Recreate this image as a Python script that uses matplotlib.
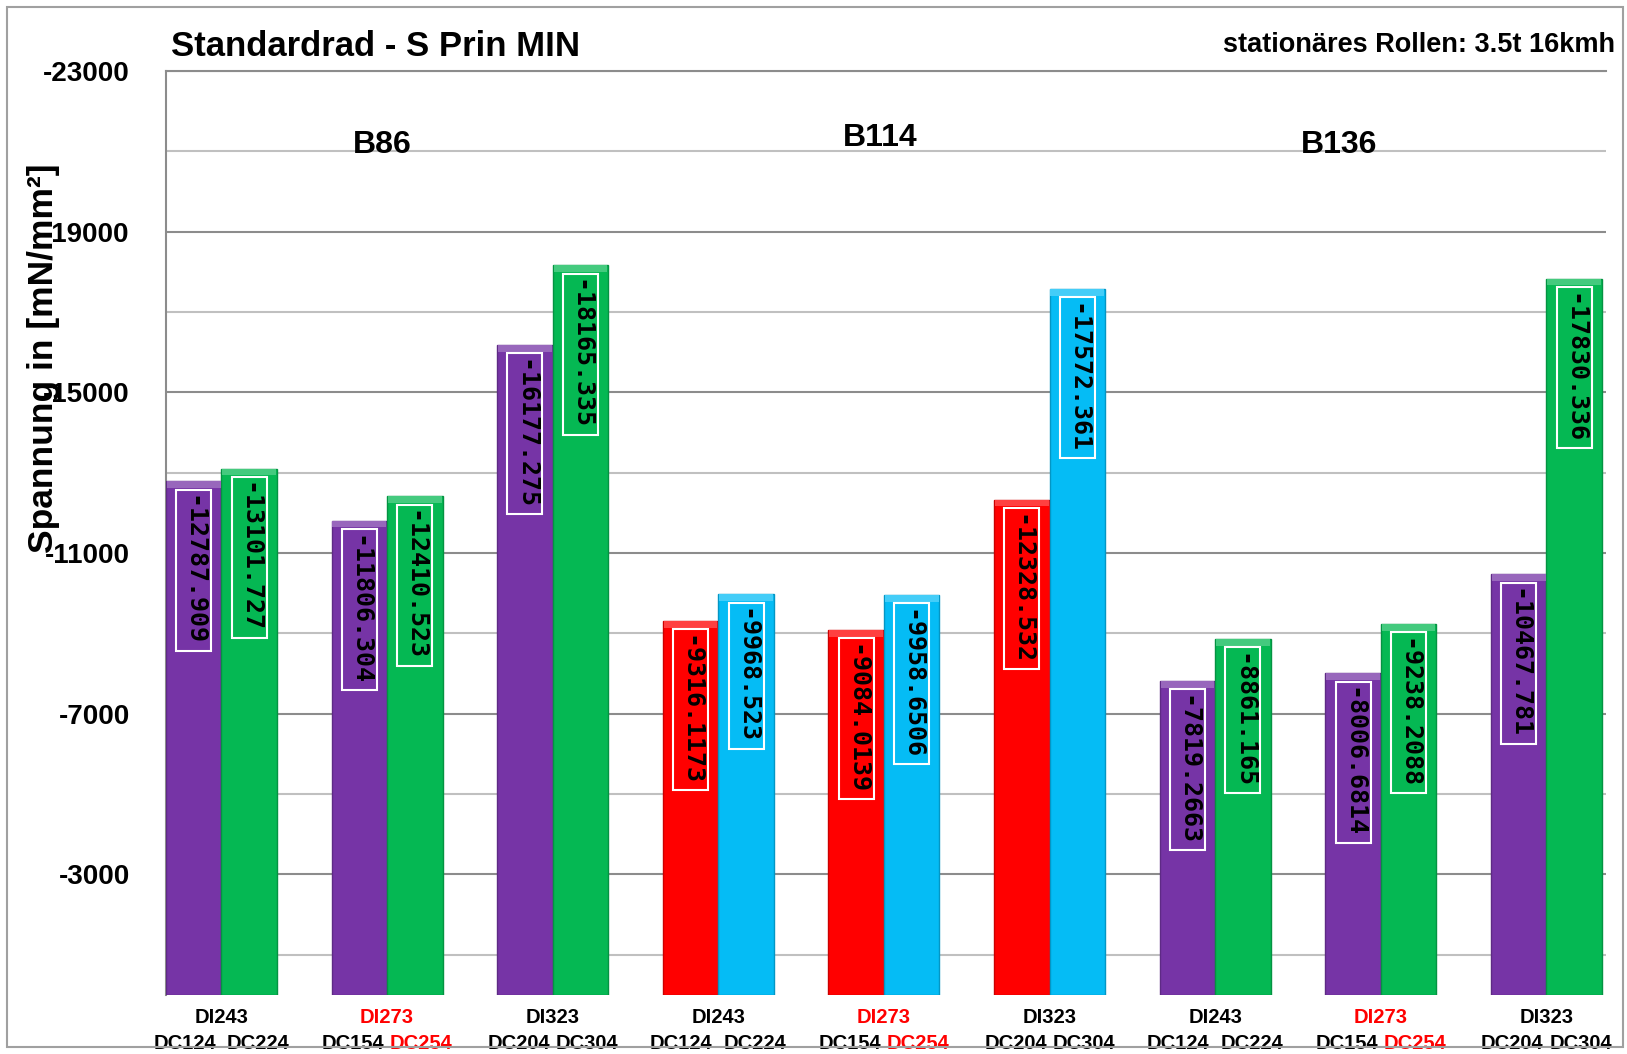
import numpy as np
import matplotlib
matplotlib.use("Agg")
import matplotlib.pyplot as plt
from matplotlib.patches import Rectangle
from matplotlib.colors import to_rgb

plt.rcParams['font.family'] = ['Liberation Sans', 'DejaVu Sans']
plt.rcParams['font.weight'] = 'bold'

### DATA
first_vals = [-12787.909, -11806.304, -16177.275, -9316.1173, -9084.0139,
              -12328.532, -7819.2663, -8006.6814, -10467.781]
second_vals = [-13101.727, -12410.523, -18165.335, -9968.523, -9958.6506,
               -17572.361, -8861.165, -9238.2088, -17830.336]
first_colors = ['#7634A6'] * 3 + ['#FF0000'] * 3 + ['#7634A6'] * 3
second_colors = ['#05B853'] * 3 + ['#05BCF5'] * 3 + ['#05B853'] * 3

top_labels = ["DI243", "DI273", "DI323"] * 3
top_colors = ['black', 'red', 'black'] * 3
sub_left = ["DC124", "DC154", "DC204"] * 3
sub_right = ["DC224", "DC254", "DC304"] * 3
sub_right_colors = ['black', 'red', 'black'] * 3
sub_gap = [4, 2, 2] * 3

group_names = ["B86", "B114", "B136"]
group_x = [0.97, 3.98, 6.75]
group_y = [-21160, -21330, -21160]

title = "Standardrad - S Prin MIN"
subtitle = "stationäres Rollen: 3.5t 16kmh"
ylabel = "Spannung in [mN/mm²]"


def shade(c, f):
    r, g, b = to_rgb(c)
    if f > 1:
        return (r + (1 - r) * (f - 1), g + (1 - g) * (f - 1), b + (1 - b) * (f - 1))
    return (r * f, g * f, b * f)


###PLOT
fig = plt.figure(figsize=(16.27, 10.54), dpi=100)
ax = fig.add_axes([0.1020, 0.0560, 0.8851, 0.8767])

x = np.arange(len(first_vals))
w = 0.335
cap = 170  # height of the light bevel strip, in data units

for xs, vals, cols in [(x - w / 2, first_vals, first_colors), (x + w / 2, second_vals, second_colors)]:
    ax.bar(xs, vals, width=w, color=cols, edgecolor=[shade(c, 0.8) for c in cols], linewidth=1, zorder=3)
    # light bevel at the top of each bar (inside the bar)
    ax.bar(xs, [-cap] * len(vals), bottom=[v + cap for v in vals], width=w * 0.97,
           color=[shade(c, 1.25) for c in cols], linewidth=0, zorder=4)
    for xi, v, c in zip(xs, vals, cols):
        ax.annotate(f"{v}", xy=(xi, v), xytext=(0, -10), textcoords='offset points',
                    rotation=-90, ha='center', va='top', fontsize=18, fontweight='bold',
                    family='DejaVu Sans Mono', color='black', zorder=5,
                    bbox=dict(boxstyle='square,pad=0.22', fc=c, ec='white', lw=1.5))

ax.set_xlim(-0.335, 8.36)
ax.set_ylim(0, -23000)

ax.set_yticks(np.arange(-23000, 0, 4000))
ax.set_yticks(np.arange(-21000, 0, 4000), minor=True)
ax.set_yticklabels([str(t) for t in np.arange(-23000, 0, 4000)], fontsize=20, fontweight='bold')
ax.tick_params(axis='y', which='both', length=0, pad=26)
ax.grid(axis='y', which='major', color='#8c8c8c', lw=1.5, zorder=0)
ax.grid(axis='y', which='minor', color='#c0c0c0', lw=1.5, zorder=0)
ax.set_xticks(x)
ax.set_xticklabels([])
ax.tick_params(axis='x', length=0)

for s in ['right', 'bottom']:
    ax.spines[s].set_visible(False)
ax.spines['left'].set_color('#8c8c8c')
ax.spines['left'].set_linewidth(1.5)
ax.spines['top'].set_color('#8c8c8c')
ax.spines['top'].set_linewidth(1.5)

# category labels under the groups
for i in range(len(x)):
    ax.annotate(top_labels[i], xy=(x[i], 0), xycoords=('data', 'axes fraction'),
                xytext=(0, -16.5), textcoords='offset points', ha='center', va='center',
                fontsize=14.5, fontweight='bold', color=top_colors[i], annotation_clip=False)
    ax.annotate(sub_left[i], xy=(x[i], 0), xycoords=('data', 'axes fraction'),
                xytext=(-sub_gap[i], -35), textcoords='offset points', ha='right', va='center',
                fontsize=14.5, fontweight='bold', color='black', annotation_clip=False)
    ax.annotate(sub_right[i], xy=(x[i], 0), xycoords=('data', 'axes fraction'),
                xytext=(sub_gap[i], -35), textcoords='offset points', ha='left', va='center',
                fontsize=14.5, fontweight='bold', color=sub_right_colors[i], annotation_clip=False)

for name, gx, gy in zip(group_names, group_x, group_y):
    ax.text(gx, gy, name, ha='center', va='center', fontsize=23, fontweight='bold', zorder=2)

fig.text(171 / 1627, 1 - 46 / 1054, title, ha='left', va='center', fontsize=25, fontweight='bold')
fig.text(1615 / 1627, 1 - 45 / 1054, subtitle, ha='right', va='center', fontsize=19.5, fontweight='bold')
fig.text(44 / 1627, 1 - 358 / 1054, ylabel, ha='center', va='center', rotation=90,
         fontsize=25.5, fontweight='bold')

fig.patches.append(Rectangle((7 / 1627, 1 - 1047 / 1054), 1616 / 1627, 1040 / 1054,
                             transform=fig.transFigure, fill=False, ec='#a0a0a0', lw=1.5))

fig.savefig("out.png", dpi=100)
